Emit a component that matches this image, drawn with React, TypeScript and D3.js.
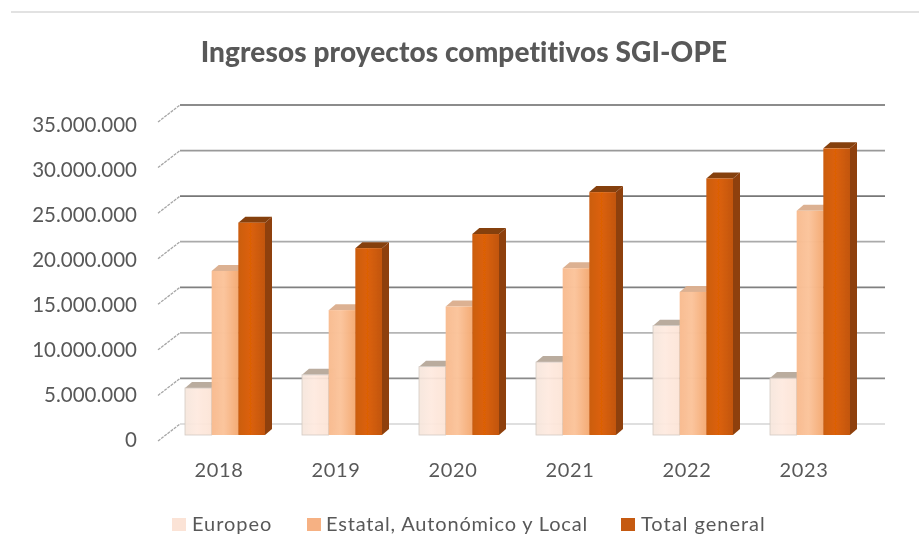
import React from "react";
import * as d3 from "d3";

const years = ["2018", "2019", "2020", "2021", "2022", "2023"];
const europeo = [5150000, 6600000, 7500000, 8000000, 12000000, 6250000];
const estatal = [18000000, 13700000, 14100000, 18300000, 15700000, 24600000];
const total = [23300000, 20500000, 22050000, 26650000, 28150000, 31450000];
const ticks = [0, 5000000, 10000000, 15000000, 20000000, 25000000, 30000000, 35000000];
const tickLabels = ["0", "5.000.000", "10.000.000", "15.000.000", "20.000.000", "25.000.000", "30.000.000", "35.000.000"];
const gridColors = ["#d4d4d4", "#8a8a8a", "#b5b5b5", "#808080", "#aaaaaa", "#777777", "#999999", "#666666"];
const seriesNames = ["Europeo", "Estatal, Autonómico y Local", "Total general"];
const legendColors = ["#fbe3d6", "#f6b183", "#c55a11"];
const legendSwatchX = [172, 307, 621];
const legendTextX = [192, 326, 641];
const legendSpacing = [0.95, 0.82, 1.0];

const W = 919, H = 535;
const font = "Lato, 'Open Sans', sans-serif";
const textColor = "#595959";

const FACE = [
  { l: "#f6e6dc", m: "#feeadf", r: "#fce3d5", side: "#d9c3b3", top: "#b5a596", edge: "#cfc6bf", op: 0.92 },
  { l: "#f8bc90", m: "#fbc49c", r: "#f4ab74", side: "#d98c55", top: "#dcb090", edge: "none", op: 0.98 },
  { l: "#cb5d10", m: "#dc6106", r: "#c2560d", side: "#8e4008", top: "#854010", edge: "none", op: 1 },
];

export default function App() {
  const y = d3.scaleLinear().domain([0, 35000000]).range([435, 116]);
  const wallY = d3.scaleLinear().domain([0, 35000000]).range([424, 105]);
  const tickY = d3.scaleLinear().domain([0, 35000000]).range([441, 122]);
  const labelY = d3.scaleLinear().domain([0, 35000000]).range([447, 132]);
  const x0 = d3.scaleBand().domain(years).range([161, 863]);
  const x1 = d3.scaleBand().domain(seriesNames).range([24, 104]);
  const dx = 7, dy = 6;
  const seriesValues = [europeo, estatal, total];
  return (
    <svg width={W} height={H} style={{ position: "absolute", left: 0, top: 0, background: "#fff" }}>
      <defs>
        {FACE.map((f, i) => (
          <linearGradient key={i} id={`g${i}`} x1="0" x2="1" y1="0" y2="0">
            <stop offset="0" stopColor={f.l} />
            <stop offset="0.45" stopColor={f.m} />
            <stop offset="1" stopColor={f.r} />
          </linearGradient>
        ))}
        <filter id="soft" x="-5%" y="-5%" width="110%" height="110%">
          <feGaussianBlur stdDeviation="0.6" />
        </filter>
        <filter id="softText" x="-5%" y="-20%" width="110%" height="140%">
          <feGaussianBlur stdDeviation="0.3" />
        </filter>
      </defs>
      <line x1={11} x2={919} y1={12} y2={12} stroke="#d9d9d9" strokeWidth={1.5} />
      <g filter="url(#softText)">
        <text x={464} y={62} textAnchor="middle" fontFamily={font} fontWeight={900} fontSize={28} letterSpacing={0.1} fill={textColor}>
          Ingresos proyectos competitivos SGI-OPE
        </text>
        {ticks.map((t, i) => (
          <text key={t} x={137} y={labelY(t)} textAnchor="end" fontFamily={font} fontSize={20.5} fill={textColor}>
            {tickLabels[i]}
          </text>
        ))}
        {years.map((yr) => (
          <text key={yr} x={x0(yr)! + 58} y={477} textAnchor="middle" fontFamily={font} fontSize={20} letterSpacing={0.6} fill={textColor}>
            {yr}
          </text>
        ))}
        {seriesNames.map((s, i) => (
          <text key={s} x={legendTextX[i]} y={531} fontFamily={font} fontSize={20} letterSpacing={legendSpacing[i]} fill={textColor}>
            {s}
          </text>
        ))}
      </g>
      {ticks.map((t, i) => (
        <g key={t}>
          <line x1={180} x2={885} y1={wallY(t)} y2={wallY(t)} stroke={gridColors[i]} strokeWidth={1.7} />
          <line x1={158} x2={180} y1={tickY(t)} y2={wallY(t)} stroke="#a6a6a6" strokeWidth={1.3} strokeDasharray="3 1" />
        </g>
      ))}
      <g filter="url(#soft)">
        {years.map((yr, gi) => (
          <g key={yr}>
            {seriesNames.map((s, si) => {
              const v = seriesValues[si][gi];
              const bx = x0(yr)! + x1(s)!;
              const bw = x1.bandwidth();
              const ty = y(v), by = y(0);
              const f = FACE[si];
              return (
                <g key={s} opacity={f.op}>
                  <path d={`M${bx + bw},${ty} l${dx},${-dy} V${by - dy} l${-dx},${dy} Z`} fill={f.side} />
                  <path d={`M${bx},${ty} l${dx},${-dy} h${bw} l${-dx},${dy} Z`} fill={f.top} />
                  <rect x={bx} y={ty} width={bw} height={by - ty} fill={`url(#g${si})`} stroke={f.edge} strokeWidth={0.8} />
                </g>
              );
            })}
          </g>
        ))}
      </g>
      {seriesNames.map((s, i) => (
        <rect key={s} x={legendSwatchX[i]} y={518} width={14} height={13} fill={legendColors[i]} />
      ))}
    </svg>
  );
}
